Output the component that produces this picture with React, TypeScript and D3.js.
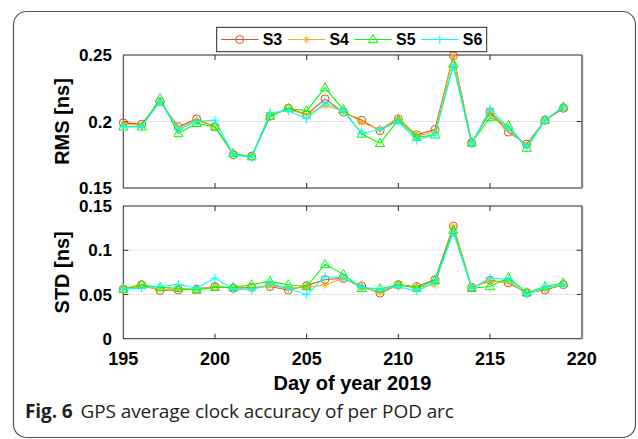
import * as d3 from "d3";

const days = [195, 196, 197, 198, 199, 200, 201, 202, 203, 204, 205, 206, 207, 208, 209, 210, 211, 212, 213, 214, 215, 216, 217, 218, 219];

const rmsS3 = [0.199, 0.198, 0.215, 0.196, 0.202, 0.196, 0.175, 0.174, 0.204, 0.21, 0.205, 0.217, 0.207, 0.201, 0.193, 0.202, 0.19, 0.194, 0.2495, 0.184, 0.207, 0.192, 0.183, 0.201, 0.21];
const rmsS4 = [0.198, 0.197, 0.215, 0.195, 0.201, 0.196, 0.175, 0.174, 0.205, 0.209, 0.205, 0.212, 0.208, 0.199, 0.194, 0.203, 0.189, 0.192, 0.249, 0.184, 0.208, 0.194, 0.182, 0.201, 0.211];
const rmsS5 = [0.196, 0.196, 0.2174, 0.191, 0.1986, 0.196, 0.176, 0.1735, 0.204, 0.21, 0.208, 0.2254, 0.209, 0.1906, 0.1836, 0.201, 0.188, 0.19, 0.2432, 0.184, 0.203, 0.197, 0.18, 0.201, 0.211];
const rmsS6 = [0.196, 0.196, 0.215, 0.194, 0.2, 0.201, 0.175, 0.173, 0.2066, 0.208, 0.202, 0.214, 0.208, 0.191, 0.194, 0.2, 0.186, 0.19, 0.242, 0.183, 0.21, 0.195, 0.181, 0.201, 0.211];

const stdS3 = [0.056, 0.061, 0.0545, 0.055, 0.056, 0.059, 0.057, 0.058, 0.059, 0.055, 0.06, 0.067, 0.068, 0.0595, 0.0515, 0.061, 0.059, 0.0667, 0.1273, 0.058, 0.066, 0.063, 0.052, 0.055, 0.061];
const stdS4 = [0.056, 0.059, 0.056, 0.056, 0.056, 0.059, 0.057, 0.057, 0.06, 0.057, 0.058, 0.061, 0.068, 0.058, 0.053, 0.061, 0.058, 0.061, 0.127, 0.058, 0.065, 0.064, 0.051, 0.056, 0.061];
const stdS5 = [0.056, 0.061, 0.058, 0.057, 0.055, 0.058, 0.058, 0.061, 0.0648, 0.061, 0.059, 0.084, 0.0727, 0.057, 0.0565, 0.061, 0.057, 0.066, 0.1227, 0.057, 0.059, 0.069, 0.052, 0.059, 0.063];
const stdS6 = [0.056, 0.057, 0.059, 0.0614, 0.057, 0.0686, 0.056, 0.055, 0.062, 0.057, 0.0497, 0.07, 0.069, 0.058, 0.056, 0.059, 0.0538, 0.064, 0.12, 0.057, 0.0686, 0.067, 0.05, 0.058, 0.061];

const seriesNames = ["S3", "S4", "S5", "S6"];
const xTicks = [195, 200, 205, 210, 215, 220];
const rmsTicks = [0.15, 0.2, 0.25];
const stdTicks = [0, 0.05, 0.1, 0.15];

const colors = ["#D95319", "#EDB120", "#00FF00", "#00FFFF"];
const markerKinds = ["circle", "asterisk", "triangle", "plus"];

const x = d3.scaleLinear().domain([195, 220]).range([123.3, 581.7]);
const yRms = d3.scaleLinear().domain([0.15, 0.25]).range([188, 55]);
const yStd = d3.scaleLinear().domain([0, 0.15]).range([338.7, 206]);

const axisFont = "'Liberation Sans', Arial, sans-serif";

function Marker({ kind, cx, cy, color }: { kind: string; cx: number; cy: number; color: string }) {
  if (kind === "circle") return <circle cx={cx} cy={cy} r={4} fill="none" stroke={color} strokeWidth={1} />;
  if (kind === "triangle") {
    const p = `M${cx},${cy - 5}L${cx + 4.6},${cy + 3.2}L${cx - 4.6},${cy + 3.2}Z`;
    return <path d={p} fill="none" stroke={color} strokeWidth={1} />;
  }
  if (kind === "plus") {
    const s = 4.5;
    return <path d={`M${cx - s},${cy}H${cx + s}M${cx},${cy - s}V${cy + s}`} stroke={color} strokeWidth={1} />;
  }
  const s = 4, d = 2.9;
  return (
    <path
      d={`M${cx - s},${cy}H${cx + s}M${cx},${cy - s}V${cy + s}M${cx - d},${cy - d}L${cx + d},${cy + d}M${cx - d},${cy + d}L${cx + d},${cy - d}`}
      stroke={color}
      strokeWidth={1}
    />
  );
}

function Panel({ y, ticks, series, fmt, label }: { y: d3.ScaleLinear<number, number>; ticks: number[]; series: number[][]; fmt: (v: number) => string; label: string }) {
  const [x0, x1] = x.range();
  const [yb, yt] = y.range();
  const line = (vals: number[]) =>
    d3
      .line<number>()
      .x((_, i) => x(days[i]))
      .y((v) => y(v))(vals) ?? "";
  return (
    <g>
      {ticks.slice(1, -1).map((t) => (
        <line key={t} x1={x0} x2={x1} y1={y(t)} y2={y(t)} stroke="#e6e6e6" strokeWidth={1} />
      ))}
      {xTicks.slice(1, -1).map((t) => (
        <g key={t} stroke="#262626" strokeWidth={1}>
          <line x1={x(t)} x2={x(t)} y1={yb} y2={yb - 5} />
          <line x1={x(t)} x2={x(t)} y1={yt} y2={yt + 5} />
        </g>
      ))}
      {ticks.slice(1, -1).map((t) => (
        <g key={t} stroke="#262626" strokeWidth={1}>
          <line x1={x0} x2={x0 + 5} y1={y(t)} y2={y(t)} />
          <line x1={x1} x2={x1 - 5} y1={y(t)} y2={y(t)} />
        </g>
      ))}
      <rect x={x0} y={yt} width={x1 - x0} height={yb - yt} fill="none" stroke="#262626" strokeWidth={1} />
      <line x1={x1 + 0.5} x2={x1 + 0.5} y1={yt} y2={yb} stroke="#8a8a8a" strokeWidth={2} />
      {series.map((vals, si) => (
        <g key={si}>
          <path d={line(vals)} fill="none" stroke={colors[si]} strokeWidth={1.1} />
          {vals.map((v, i) => (
            <Marker key={i} kind={markerKinds[si]} cx={x(days[i])} cy={y(v)} color={colors[si]} />
          ))}
        </g>
      ))}
      {ticks.map((t) => (
        <text key={t} x={112} y={y(t)} dy="0.36em" textAnchor="end" fontFamily={axisFont} fontWeight="bold" fontSize={17} fill="#000">
          {fmt(t)}
        </text>
      ))}
      <text
        transform={`translate(69,${(yb + yt) / 2}) rotate(-90)`}
        textAnchor="middle"
        fontFamily={axisFont}
        fontWeight="bold"
        fontSize={20}
        fill="#000"
      >
        {label}
      </text>
    </g>
  );
}

const fmtTick = (v: number) => (v === 0 ? "0" : String(+v.toFixed(2)));

export default function App() {
  const legendX = [221, 287.7, 354.4, 421.1];
  return (
    <svg width={638} height={439} style={{ position: "absolute", left: 0, top: 0, background: "#fff" }}>
      <rect x={13.5} y={11.5} width={622} height={426} rx={13} fill="#fff" stroke="#555" strokeWidth={1.2} />
      <Panel y={yRms} ticks={rmsTicks} series={[rmsS3, rmsS4, rmsS5, rmsS6]} fmt={fmtTick} label="RMS [ns]" />
      <Panel y={yStd} ticks={stdTicks} series={[stdS3, stdS4, stdS5, stdS6]} fmt={fmtTick} label="STD [ns]" />
      {xTicks.map((t) => (
        <text key={t} x={x(t)} y={365} textAnchor="middle" fontFamily={axisFont} fontWeight="bold" fontSize={18} fill="#000">
          {t}
        </text>
      ))}
      <text x={(x.range()[0] + x.range()[1]) / 2} y={390} textAnchor="middle" fontFamily={axisFont} fontWeight="bold" fontSize={20} fill="#000">
        Day of year 2019
      </text>
      <g>
        <rect x={216.7} y={27.3} width={270} height={24.4} fill="#fff" stroke="#262626" strokeWidth={1} />
        {seriesNames.map((n, i) => (
          <g key={n}>
            <line x1={legendX[i]} x2={legendX[i] + 37.5} y1={39.5} y2={39.5} stroke={colors[i]} strokeWidth={1.1} />
            <Marker kind={markerKinds[i]} cx={legendX[i] + 18.7} cy={39.5} color={colors[i]} />
            <text x={legendX[i] + 41.7} y={39.5} dy="0.36em" fontFamily={axisFont} fontWeight="bold" fontSize={16} fill="#000">
              {n}
            </text>
          </g>
        ))}
      </g>
      <text x={25} y={418} fontFamily="'Open Sans', Lato, sans-serif" fontSize={19} fill="#231f20" letterSpacing={-0.1}>
        <tspan fontWeight="bold">Fig. 6</tspan>
        <tspan dx={8}>GPS average clock accuracy of per POD arc</tspan>
      </text>
    </svg>
  );
}
